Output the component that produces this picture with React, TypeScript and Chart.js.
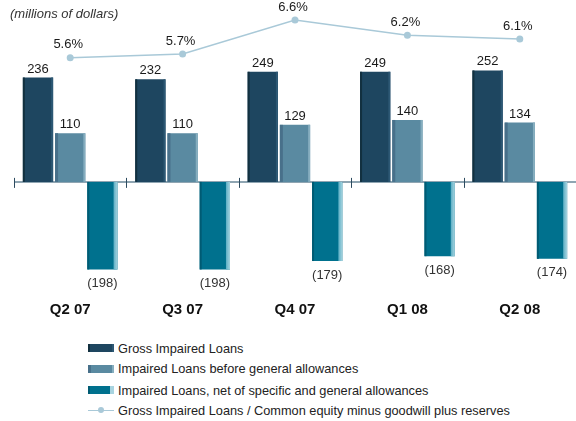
import React, { useEffect, useRef } from "react";
import { Chart, registerables } from "chart.js";

Chart.register(...registerables);

const categories = ["Q2 07", "Q3 07", "Q4 07", "Q1 08", "Q2 08"];
const grossImpaired = [236, 232, 249, 249, 252];
const impairedBeforeGeneral = [110, 110, 129, 140, 134];
const impairedNet = [-198, -198, -179, -168, -174];
const ratioPct = [5.6, 5.7, 6.6, 6.2, 6.1];
const seriesNames = [
  "Gross Impaired Loans",
  "Impaired Loans before general allowances",
  "Impaired Loans, net of specific and general allowances",
  "Gross Impaired Loans / Common equity minus goodwill plus reserves",
];
const unitsTitle = "(millions of dollars)";

const FONT = "'Liberation Sans', Arial, Helvetica, sans-serif";

const barStyles = [
  { main: "#1e4660", left: "#12303f", lw: 2, right: "#2d5874", rw: 2 },
  { main: "#5a8aa1", left: "#48708a", lw: 3, right: "#86aebf", rw: 2 },
  { main: "#00718e", left: "#005b73", lw: 2, right: "#a8d4e0", rw: 4 },
];
const lineColor = "#a9c9d8";

const legendCss = [
  "linear-gradient(to right, #12303f 0 2px, #1e4660 2px 24px, #2d5874 24px)",
  "linear-gradient(to right, #48708a 0 3px, #5a8aa1 3px 24px, #86aebf 24px)",
  "linear-gradient(to right, #005b73 0 2px, #00718e 2px 22px, #a8d4e0 22px)",
];

const decoPlugin = {
  id: "deco",
  beforeDatasetsDraw(chart: any) {
    const { ctx, chartArea } = chart;
    const x = chart.scales.x;
    const y = chart.scales.y;
    const zy = y.getPixelForValue(0);
    ctx.save();
    ctx.strokeStyle = "#6a8799";
    ctx.lineWidth = 1.5;
    ctx.beginPath();
    ctx.moveTo(chartArea.left, zy);
    ctx.lineTo(chartArea.right + 5, zy);
    ctx.stroke();
    const n = categories.length;
    const cw = (chartArea.right - chartArea.left) / n;
    ctx.strokeStyle = "#2c4a5e";
    ctx.lineWidth = 1;
    for (let i = 0; i < n; i++) {
      const bx = Math.round(x.getPixelForValue(i) - cw / 2) + 0.5;
      ctx.beginPath();
      ctx.moveTo(bx, zy - 4);
      ctx.lineTo(bx, zy + 6);
      ctx.stroke();
    }
    ctx.restore();
  },
  afterDatasetsDraw(chart: any) {
    const { ctx } = chart;
    ctx.save();
    for (let d = 0; d < 3; d++) {
      const meta = chart.getDatasetMeta(d);
      const st = barStyles[d];
      meta.data.forEach((el: any) => {
        const p = el.getProps(["x", "y", "base", "width"], true);
        const left = p.x - p.width / 2;
        const top = Math.min(p.y, p.base);
        const h = Math.abs(p.base - p.y);
        ctx.fillStyle = st.left;
        ctx.fillRect(left, top, st.lw, h);
        if (d === 2) {
          const g = ctx.createLinearGradient(left + p.width - st.rw, 0, left + p.width, 0);
          g.addColorStop(0, "#5aaec4");
          g.addColorStop(1, st.right);
          ctx.fillStyle = g;
        } else {
          ctx.fillStyle = st.right;
        }
        ctx.fillRect(left + p.width - st.rw, top, st.rw, h);
      });
    }
    ctx.font = `13px ${FONT}`;
    ctx.textAlign = "center";
    const barData = [grossImpaired, impairedBeforeGeneral, impairedNet];
    for (let d = 0; d < 3; d++) {
      const meta = chart.getDatasetMeta(d);
      meta.data.forEach((el: any, i: number) => {
        const v = barData[d][i];
        const p = el.getProps(["x", "y"], true);
        if (v >= 0) {
          ctx.fillStyle = "#1a1a1a";
          ctx.textBaseline = "alphabetic";
          ctx.fillText(String(v), p.x, p.y - 5);
        } else {
          ctx.fillStyle = "#333333";
          ctx.textBaseline = "middle";
          ctx.fillText(`(${-v})`, p.x, p.y + 14);
        }
      });
    }
    const lmeta = chart.getDatasetMeta(3);
    ctx.fillStyle = "#1a1a1a";
    ctx.textBaseline = "middle";
    lmeta.data.forEach((el: any, i: number) => {
      const p = el.getProps(["x", "y"], true);
      ctx.fillText(`${ratioPct[i].toFixed(1)}%`, p.x - 2, p.y - 13);
    });
    ctx.restore();
  },
};

export default function App() {
  const ref = useRef<HTMLCanvasElement | null>(null);

  useEffect(() => {
    document.body.style.margin = "0";
    const canvas = ref.current;
    if (!canvas) return;
    const chart = new Chart(canvas, {
      type: "bar",
      data: {
        labels: categories,
        datasets: [
          {
            type: "bar",
            label: seriesNames[0],
            data: grossImpaired,
            backgroundColor: barStyles[0].main,
            yAxisID: "y",
            order: 1,
          },
          {
            type: "bar",
            label: seriesNames[1],
            data: impairedBeforeGeneral,
            backgroundColor: barStyles[1].main,
            yAxisID: "y",
            order: 1,
          },
          {
            type: "bar",
            label: seriesNames[2],
            data: impairedNet,
            backgroundColor: barStyles[2].main,
            yAxisID: "y",
            order: 1,
          },
          {
            type: "line",
            label: seriesNames[3],
            data: ratioPct,
            yAxisID: "y1",
            borderColor: lineColor,
            backgroundColor: lineColor,
            borderWidth: 1.5,
            pointRadius: 3.5,
            pointBorderWidth: 0,
            pointBackgroundColor: lineColor,
            tension: 0,
            clip: false,
            order: 0,
          } as any,
        ],
      },
      options: {
        responsive: false,
        animation: false,
        devicePixelRatio: 1,
        layout: { padding: { left: 14, right: 1, top: 5, bottom: 2 } },
        datasets: {
          bar: { barPercentage: 0.94, categoryPercentage: 0.86 },
        },
        plugins: {
          legend: { display: false },
          tooltip: { enabled: false },
        },
        scales: {
          x: {
            grid: { display: false, drawTicks: false },
            border: { display: false },
            ticks: {
              color: "#111111",
              padding: 13,
              font: { family: FONT, size: 15, weight: "bold" },
            },
          },
          y: { display: false, min: -240, max: 400 },
          y1: { display: false, min: -0.5, max: 7.0 },
        },
      } as any,
      plugins: [decoPlugin],
    });
    return () => chart.destroy();
  }, []);

  return (
    <div
      style={{
        position: "relative",
        width: 576,
        height: 421,
        overflow: "hidden",
        background: "#ffffff",
        fontFamily: FONT,
      }}
    >
      <canvas
        ref={ref}
        width={580}
        height={334}
        style={{ position: "absolute", left: 0, top: 0, width: 580, height: 334 }}
      />
      <div
        style={{
          position: "absolute",
          left: 10,
          top: 5,
          fontSize: 13,
          fontStyle: "italic",
          color: "#333333",
          whiteSpace: "nowrap",
          lineHeight: "18px",
        }}
      >
        {unitsTitle}
      </div>
      {seriesNames.map((name, i) => {
        const cy = [348, 368.5, 390, 410][i];
        return (
          <div
            key={name}
            style={{
              position: "absolute",
              left: 88,
              top: cy - 9,
              height: 18,
              display: "flex",
              alignItems: "center",
              whiteSpace: "nowrap",
              fontSize: 12.75,
              color: "#222222",
            }}
          >
            {i < 3 ? (
              <div style={{ width: 26, height: 8, background: legendCss[i] }} />
            ) : (
              <div style={{ position: "relative", width: 26, height: 8 }}>
                <div
                  style={{
                    position: "absolute",
                    left: 0,
                    top: 3.5,
                    width: 26,
                    height: 1,
                    background: lineColor,
                  }}
                />
                <div
                  style={{
                    position: "absolute",
                    left: 10,
                    top: 1,
                    width: 6,
                    height: 6,
                    borderRadius: 3,
                    background: lineColor,
                  }}
                />
              </div>
            )}
            <span style={{ marginLeft: 4 }}>{name}</span>
          </div>
        );
      })}
    </div>
  );
}
